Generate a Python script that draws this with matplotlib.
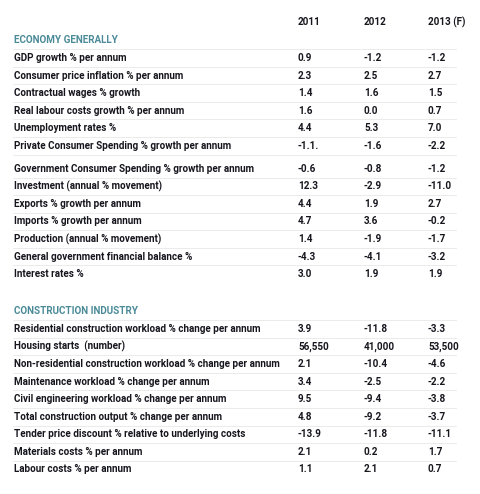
import matplotlib
matplotlib.use("Agg")
import matplotlib.pyplot as plt

years = ["2011", "2012", "2013 (F)"]

economy_labels = [
    "GDP growth % per annum",
    "Consumer price inflation % per annum",
    "Contractual wages % growth",
    "Real labour costs growth % per annum",
    "Unemployment rates %",
    "Private Consumer Spending % growth per annum",
    "Government Consumer Spending % growth per annum",
    "Investment (annual % movement)",
    "Exports % growth per annum",
    "Imports % growth per annum",
    "Production (annual % movement)",
    "General government financial balance %",
    "Interest rates %",
]
economy_2011 = ["0.9", "2.3", "1.4", "1.6", "4.4", "-1.1.", "-0.6", "12.3", "4.4", "4.7", "1.4", "-4.3", "3.0"]
economy_2012 = ["-1.2", "2.5", "1.6", "0.0", "5.3", "-1.6", "-0.8", "-2.9", "1.9", "3.6", "-1.9", "-4.1", "1.9"]
economy_2013 = ["-1.2", "2.7", "1.5", "0.7", "7.0", "-2.2", "-1.2", "-11.0", "2.7", "-0.2", "-1.7", "-3.2", "1.9"]

construction_labels = [
    "Residential construction workload % change per annum",
    "Housing starts  (number)",
    "Non-residential construction workload % change per annum",
    "Maintenance workload % change per annum",
    "Civil engineering workload % change per annum",
    "Total construction output % change per annum",
    "Tender price discount % relative to underlying costs",
    "Materials costs % per annum",
    "Labour costs % per annum",
]
construction_2011 = ["3.9", "56,550", "2.1", "3.4", "9.5", "4.8", "-13.9", "2.1", "1.1"]
construction_2012 = ["-11.8", "41,000", "-10.4", "-2.5", "-9.4", "-9.2", "-11.8", "0.2", "2.1"]
construction_2013 = ["-3.3", "53,500", "-4.6", "-2.2", "-3.8", "-3.7", "-11.1", "1.7", "0.7"]

text_col = "#16161e"
head_col = "#4b8b98"
line_col = "#e8e8e8"
font = ["Roboto", "DejaVu Sans"]
fs = 7.15

fig = plt.figure(figsize=(4.8, 4.94), dpi=100)
ax = fig.add_axes([0, 0, 1, 1])
ax.set_xlim(0, 480)
ax.set_ylim(494, 0)
ax.axis("off")

x_label = 14
x_cols = [298, 364, 428]
step = 17.55


def txt(x, y, s, color=text_col):
    ax.text(x, y, s, fontsize=fs, color=color, family=font,
            fontweight="bold", va="center", ha="left")


def draw_row(y, label, vals, line=True):
    txt(x_label, y, label)
    for x, v in zip(x_cols, vals):
        txt(x, y, v)
    if line:
        ax.plot([x_label - 1, 456], [y + step / 2, y + step / 2],
                color=line_col, lw=0.6)


# header row
for x, yr in zip(x_cols, years):
    txt(x, 22, yr)

txt(x_label, 40, "ECONOMY GENERALLY", head_col)
ax.plot([x_label - 1, 456], [40 + step / 2, 40 + step / 2], color=line_col, lw=0.6)

y = 58
for i, lab in enumerate(economy_labels):
    if i == 6:
        y += 5.5
    draw_row(y, lab, [economy_2011[i], economy_2012[i], economy_2013[i]],
             line=(i != len(economy_labels) - 1))
    y += step

txt(x_label, 311, "CONSTRUCTION INDUSTRY", head_col)
ax.plot([x_label - 1, 456], [311 + step / 2, 311 + step / 2], color=line_col, lw=0.6)

y = 329
for i, lab in enumerate(construction_labels):
    draw_row(y, lab, [construction_2011[i], construction_2012[i], construction_2013[i]],
             line=(i != len(construction_labels) - 1))
    y += step

fig.savefig("out.png", dpi=100, facecolor="white")
